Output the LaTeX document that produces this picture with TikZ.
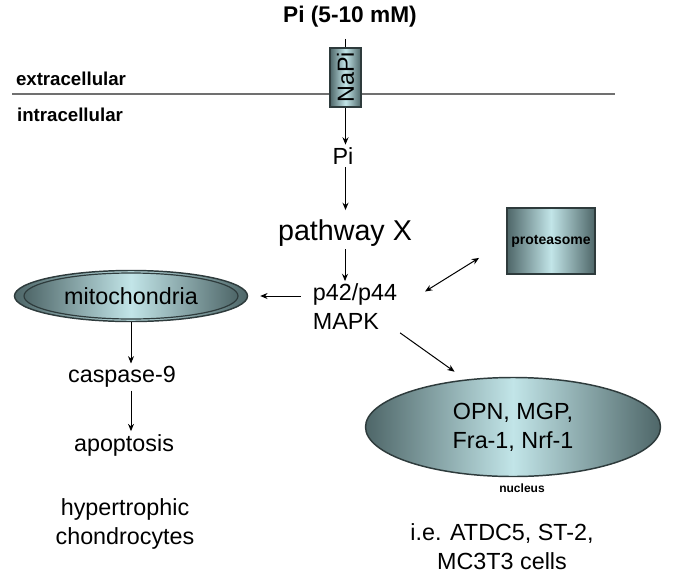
\documentclass[tikz,border=0pt]{standalone}
\usepackage{xcolor}
\usepackage{fontspec}
\setmainfont{Liberation Sans}
\usepackage{tikz}
\usetikzlibrary{arrows.meta,shapes.geometric}
\definecolor{celldark}{HTML}{4E6668}
\definecolor{celllight}{HTML}{C2E5E8}
\definecolor{celledge}{HTML}{2E3B3C}
\definecolor{membranecolor}{HTML}{707070}

\begin{document}
\begin{tikzpicture}[x=0.75pt, y=-0.75pt,%
  arr/.style={-{Stealth[length=5.5pt, width=4.5pt]}, line width=0.75pt},%
  dblarr/.style={{Stealth[length=5.5pt, width=4.5pt]}-{Stealth[length=5.5pt, width=4.5pt]}, line width=0.75pt},%
  txt/.style={font=\fontsize{17.5pt}{21.75pt}\selectfont, inner sep=2pt},%
  bigtxt/.style={font=\fontsize{21.5pt}{25pt}\selectfont, inner sep=2pt},%
  sidelabel/.style={font=\bfseries\fontsize{14pt}{16pt}\selectfont},%
  cellshade/.style={shading=axis, left color=celldark, right color=celldark, middle color=celllight, draw=celledge, line width=1.1pt}]%
\useasboundingbox (0,0) rectangle (689,582);%
\draw[membranecolor, line width=1.5pt] (12,94) -- (615,94);%
\node[font=\bfseries\fontsize{17pt}{19pt}\selectfont] (piext) at (350, 17) {Pi (5-10 mM)};%
\node[sidelabel] (extra) at (71, 79) {extracellular};%
\node[sidelabel] (intra) at (70, 115) {intracellular};%
\node[cellshade, rectangle, rotate=90, minimum width=44.25pt, minimum height=23.25pt, inner sep=0pt, font=\fontsize{17.5pt}{20pt}\selectfont] (napi) at (345.5, 77.5) {NaPi};%
\node[txt] (pi) at (343, 156) {Pi};%
\node[bigtxt] (pathway) at (345, 233) {pathway X};%
\node[txt, align=left] (mapk) at (355, 307) {p42/p44\\MAPK};%
\node[cellshade, ellipse, minimum width=174.75pt, minimum height=38.25pt, inner sep=0pt] (mito) at (131, 296) {};%
\node[cellshade, ellipse, minimum width=160.5pt, minimum height=34.5pt, inner sep=0pt, line width=0.9pt, txt] (mitoin) at (131, 296) {mitochondria};%
\node[txt] (casp) at (122, 377) {caspase-9};%
\node[txt] (apop) at (124, 445) {apoptosis};%
\node[txt, align=center] (hyper) at (125, 524) {hypertrophic\\chondrocytes};%
\node[cellshade, rectangle, minimum width=66pt, minimum height=49.5pt, inner sep=0pt, font=\bfseries\fontsize{10.5pt}{12pt}\selectfont] (prot) at (551, 241) {proteasome};%
\node[cellshade, ellipse, minimum width=221.25pt, minimum height=74.25pt, inner sep=0pt, txt, align=center] (nuc) at (513, 427) {OPN, MGP,\\Fra-1, Nrf-1};%
\node[font=\bfseries\fontsize{9pt}{11pt}\selectfont] (nuclabel) at (522, 488) {nucleus};%
\node[txt, align=center] (cells) at (502, 547) {i.e. ATDC5, ST-2,\\MC3T3 cells};%
\draw[line width=0.75pt, shorten <=5pt] (napi.east |- piext.south) -- (napi.east);%
\draw[arr] (napi.west) -- (napi.west |- pi.north);%
\draw[arr, shorten >=5pt] (napi.west |- pi.south) -- (napi.west |- pathway.north);%
\draw[arr] (pathway.south) -- (pathway.south |- mapk.north);%
\draw[arr, shorten <=7pt, shorten >=9pt] (mapk.west |- mito.east) -- (mito.east);%
\draw[dblarr, shorten <=22pt, shorten >=24pt] (mapk.east) -- (prot.west);%
\draw[arr, shorten >=10pt] (mapk.south east) -- (nuc.135);%
\draw[arr] (mito.south) -- (mito.south |- casp.north);%
\draw[arr] (mito.south |- casp.south) -- (mito.south |- apop.north);%
\end{tikzpicture}
\end{document}
